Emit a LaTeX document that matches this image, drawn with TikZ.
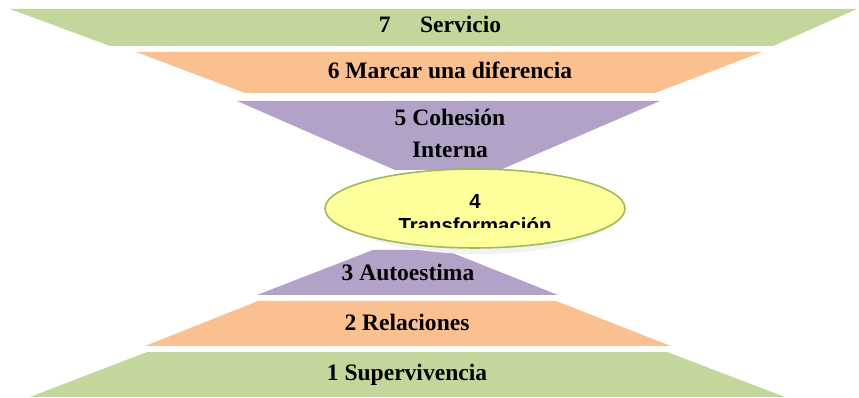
\documentclass[tikz,border=0pt]{standalone}
\usepackage{fontspec}
\setmainfont{Liberation Serif}
\newfontfamily\corefont{Liberation Sans}
\usetikzlibrary{shapes.geometric,positioning,calc}
\definecolor{LevelGreen}{RGB}{195,214,155}
\definecolor{LevelOrange}{RGB}{250,192,144}
\definecolor{LevelPurple}{RGB}{179,162,199}
\definecolor{CoreYellow}{RGB}{255,255,155}
\definecolor{CoreEdge}{RGB}{155,187,89}
\tikzstyle{Level} = [font=\fontsize{13.4}{18.1}\selectfont\bfseries, inner sep=0pt, anchor=base, align=center]
\tikzstyle{Core} = [draw=CoreEdge, fill=CoreYellow, line width=0.9pt, shape=ellipse, minimum width=6cm, minimum height=1.58cm]
\tikzstyle{CoreText} = [font=\corefont\fontsize{11.6}{13.8}\selectfont\bfseries, inner sep=0pt, anchor=base, align=center]

\begin{document}
\begin{tikzpicture}[x=0.02cm, y=-0.02cm]

        \useasboundingbox (0,0) rectangle (859,398);

        %%%%% Upper Funnel %%%%%

        \fill[LevelGreen] (10,9) -- (857,9) -- (773,46) -- (110,46) -- cycle;
        \fill[LevelOrange] (136,52) -- (762,52) -- (655,93) -- (245,93) -- cycle;
        \fill[LevelPurple] (237,101) -- (660,101) -- (500,170) -- (395,170) -- cycle;

        %%%%% Lower Pyramid %%%%%

        \fill[LevelPurple] (373,250) -- (445,250) -- (558,295) -- (257,295) -- cycle;
        \fill[LevelOrange] (258,301) -- (556,301) -- (671,346) -- (145,346) -- cycle;
        \fill[LevelGreen] (147,352) -- (667,352) -- (785,397) -- (30,397) -- cycle;

        %%%%% Middle Ellipse %%%%%

        \fill[gray!10] (478,214) ellipse [x radius=137, y radius=40];
        \fill[white] (478,212) ellipse [x radius=133, y radius=37];
        \draw node[Core] at (475,208.5) (D) {};
        \begin{scope}
                \clip (320,160) rectangle (630,227.7);
                \draw node[CoreText] at (475,232.6) (D1) {4\\Transformación};
        \end{scope}

        %%%%% Labels %%%%%

        \draw node[Level] at (440,33) (G) {7\hspace{1.25em}Servicio};
        \draw node[Level] at (450,78.5) (F) {6 Marcar una diferencia};
        \draw node[Level] at (450,157.5) (E) {5 Cohesión\\Interna};
        \draw node[Level] at (408,281) (C) {3 Autoestima};
        \draw node[Level] at (407,331) (B) {2 Relaciones};
        \draw node[Level] at (407,381) (A) {1 Supervivencia};

\end{tikzpicture}
\end{document}
